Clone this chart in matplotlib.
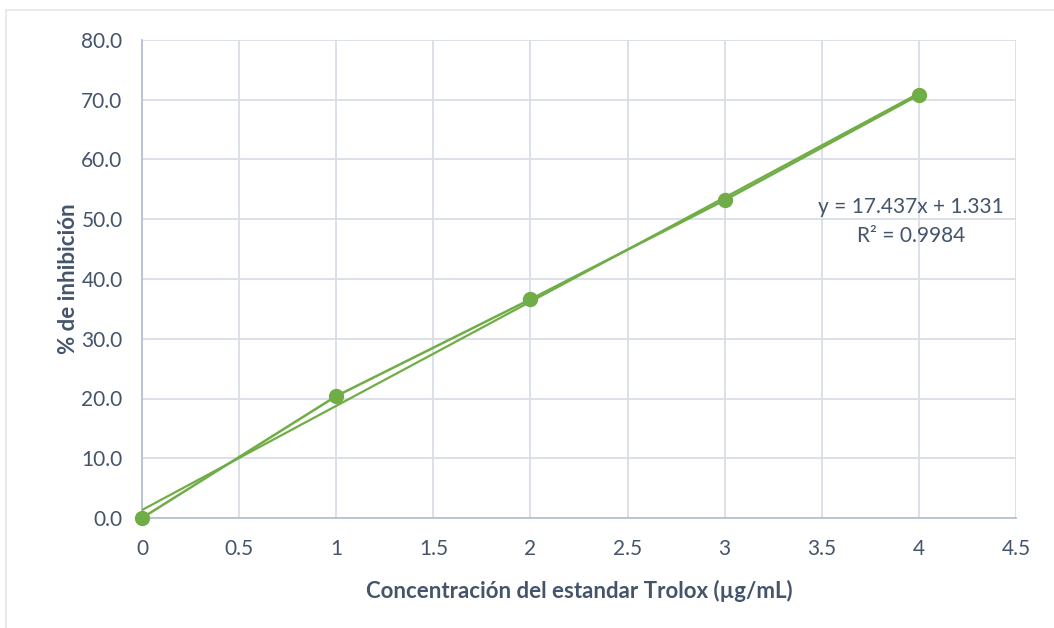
import matplotlib
matplotlib.use("Agg")
import matplotlib.pyplot as plt
import numpy as np
from matplotlib.patches import Rectangle

# Trolox standard curve
conc = [0, 1, 2, 3, 4]
inhib = [0.0, 20.4, 36.6, 53.2, 70.8]
slope = 17.437
intercept = 1.331
r2 = 0.9984

GREEN = "#70AD47"
TEXT = "#44546A"
GRID = "#D9DDE6"

plt.rcParams["font.family"] = ["Lato", "DejaVu Sans"]

fig = plt.figure(figsize=(10.54, 6.28), dpi=100)
fig.patches.append(Rectangle((6 / 1054, -0.01), 1.02, 0.994,
                             transform=fig.transFigure, fill=False,
                             edgecolor="#E3E6EA", lw=1.2))
ax = fig.add_axes([142 / 1054, 110 / 628, 874 / 1054, 478 / 628])

# linear trendline across the data range
xt = np.array([min(conc), max(conc)])
ax.plot(xt, slope * xt + intercept, color=GREEN, lw=1.6, zorder=3)
ax.plot(conc, inhib, color=GREEN, lw=1.8, marker="o", ms=10,
        markeredgecolor=GREEN, zorder=4, clip_on=False)

ax.set_xlim(0, 4.5)
ax.set_ylim(0, 80)
ax.set_xticks(np.arange(0, 4.51, 0.5))
ax.set_xticklabels(["0", "0.5", "1", "1.5", "2", "2.5", "3", "3.5", "4", "4.5"])
ax.set_yticks(np.arange(0, 81, 10))
ax.set_yticklabels([f"{v:.1f}" for v in range(0, 81, 10)])
ax.grid(True, color=GRID, lw=1.3)
ax.set_axisbelow(True)
for s in ["top", "right"]:
    ax.spines[s].set_visible(False)
for s in ["left", "bottom"]:
    ax.spines[s].set_color("#B4C0D3")
    ax.spines[s].set_linewidth(1.3)
ax.tick_params(axis="y", length=0, labelsize=15, labelcolor=TEXT, pad=14)
ax.tick_params(axis="x", length=0, labelsize=15, labelcolor=TEXT, pad=15)

ax.set_xlabel("Concentración del estandar Trolox (µg/mL)", fontsize=16,
              fontweight="bold", color=TEXT, labelpad=15)
ax.set_ylabel("% de inhibición", fontsize=16, fontweight="bold",
              color=TEXT, labelpad=2)

ax.text(3.96, 49.6, f"y = {slope}x + {intercept}\nR² = {r2}", ha="center",
        va="center", fontsize=15, color=TEXT, linespacing=1.55)

fig.savefig("out.png", dpi=100)
